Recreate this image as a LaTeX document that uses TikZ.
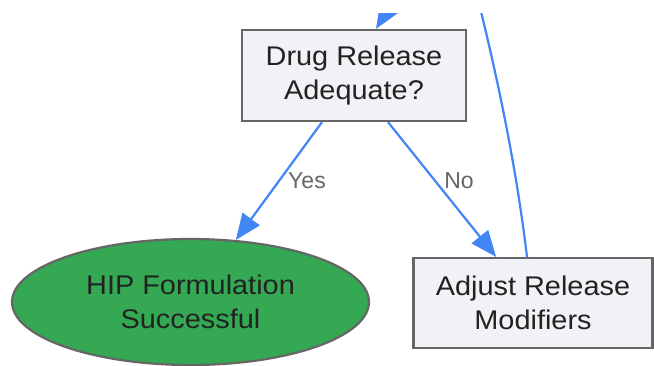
\documentclass[tikz,border=0pt]{standalone}
\usepackage{fontspec}
\newfontfamily\nodefont{Liberation Sans}[FakeStretch=1.07]
\newfontfamily\labelfont{Liberation Sans}
\usetikzlibrary{arrows.meta,shapes.geometric}
\definecolor{boxfill}{HTML}{F1F2F5}
\definecolor{boxdraw}{HTML}{666666}
\definecolor{okgreen}{HTML}{34A853}
\definecolor{flow}{HTML}{4285F4}
\definecolor{lbl}{HTML}{666666}
\definecolor{txt}{HTML}{222222}
\tikzset{
  procbox/.style={draw=boxdraw, fill=boxfill, line width=2.2pt, text=txt,
    font=\nodefont\fontsize{27}{34}\selectfont, align=center, inner sep=0pt},
  endshape/.style={ellipse, draw=boxdraw, fill=okgreen, line width=2.2pt, text=txt,
    font=\nodefont\fontsize{27}{34}\selectfont, align=center, inner sep=0pt},
  flowline/.style={draw=flow, line width=2.2pt, -{Triangle[length=26pt,width=21pt]}},
  loopline/.style={draw=flow, line width=2.2pt},
  edgelabel/.style={text=lbl, font=\labelfont\fontsize{23}{27}\selectfont, inner sep=0pt}
}
\begin{document}
\begin{tikzpicture}[x=1pt,y=-1pt]
\useasboundingbox (0,0) rectangle (654,366);
\fill[white] (0,0) rectangle (654,366);
\node[procbox, minimum width=224pt, minimum height=91pt] (dec) at (354,75.5) {Drug Release\\Adequate?};
\node[endshape, minimum width=357pt, minimum height=126pt] (ok) at (190.5,302) {HIP Formulation\\Successful};
\node[procbox, minimum width=239pt, minimum height=90pt] (adj) at (533,303) {Adjust Release\\Modifiers};
\coordinate (inc) at (400,-10);
\coordinate (up) at (468,-40);
\draw[flowline] ([xshift=-32pt]dec.south) -- (ok);
\draw[flowline] ([xshift=34pt]dec.south) -- (adj);
\node[edgelabel] (lyes) at (307,181) {Yes};
\node[edgelabel] (lno) at (459,181) {No};
\begin{scope}
\clip (0,14) rectangle (654,366);
\draw[flowline] (inc) -- ([xshift=22pt]dec.north);
\draw[loopline] ([xshift=-6pt]adj.north) .. controls (515,157) and (494,60) .. (up);
\end{scope}
\end{tikzpicture}
\end{document}
